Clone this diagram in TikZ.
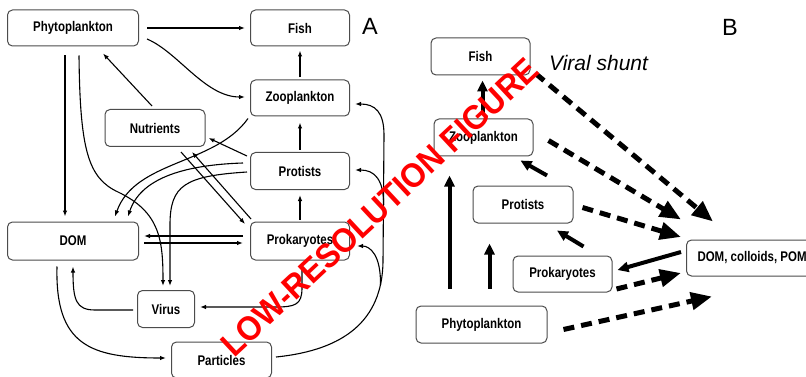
\documentclass[tikz,border=0pt]{standalone}
\usepackage{fontspec}
\setmainfont{Liberation Sans}
\newfontfamily\boxfont[FakeStretch=0.82]{Liberation Sans}
\newfontfamily\wmfont[FakeStretch=0.93]{Liberation Sans}
\usetikzlibrary{arrows.meta,calc}
\begin{document}
\begin{tikzpicture}[x=1pt,y=-1pt,
  boxA/.style={draw=black!70, line width=1pt, rounded corners=5pt, fill=white,
    font=\boxfont\bfseries\fontsize{14}{15}\selectfont, inner sep=0pt},
  ea/.style={-{Latex[length=6pt,width=4.5pt]}, line width=1.1pt},
  solidB/.style={-{Triangle[length=11pt,width=10pt]}, line width=4pt},
  dashB/.style={-{Triangle[length=21pt,width=17pt]}, line width=5pt, dash pattern=on 11pt off 7pt},
  lbl/.style={font=\fontsize{23.5}{24}\selectfont, inner sep=0pt, anchor=base}]
\clip (0,0) rectangle (806,377);
\fill[white] (0,0) rectangle (806,377);
% ---------- Panel A nodes
\node[boxA, minimum width=131pt, minimum height=36pt] (phA) at (73,28) {Phytoplankton};
\node[boxA, minimum width=99pt, minimum height=36pt] (fishA) at (300,28) {Fish};
\node[boxA, minimum width=99pt, minimum height=36pt] (zooA) at (300,98) {Zooplankton};
\node[boxA, minimum width=100pt, minimum height=37pt] (nutA) at (155,128) {Nutrients};
\node[boxA, minimum width=99pt, minimum height=37pt] (proA) at (300,171) {Protists};
\node[boxA, minimum width=131pt, minimum height=38pt] (domA) at (73,241) {DOM};
\node[boxA, minimum width=99pt, minimum height=38pt] (prokA) at (300,241) {Prokaryotes};
\node[boxA, minimum width=57pt, minimum height=37pt] (virA) at (166,309) {Virus};
\node[boxA, minimum width=100pt, minimum height=36pt] (parA) at (221.5,360) {Particles};
\node[lbl] (labA) at (370,35) {A};
% ---------- Panel A connectors
\draw[ea] ($(phA.east)+(8,0)$) -- ($(fishA.west)+(-5,0)$);
\draw[ea] ($(phA.east)+(8,11)$) .. controls (178,52) and (205,97) .. ($(zooA.west)+(-5,-1)$);
\draw[ea] ($(nutA.north)+(-3,-3)$) -- ($(phA.south)+(30,7)$);
\draw[ea] ($(zooA.north)+(0,-2)$) -- ($(fishA.south)+(0,4)$);
\draw[ea] ($(proA.north)+(0,-2)$) -- ($(zooA.south)+(0,6)$);
\draw[ea] ($(prokA.north)+(0,-2)$) -- ($(proA.south)+(0,5)$);
\draw[ea] ($(phA.south)+(-8,9)$) -- ($(domA.north)+(-8,-5)$);
\draw[ea] ($(proA.west)+(-3,-15)$) -- ($(nutA.east)+(3,10)$);
\draw[ea] ($(phA.south)+(6,9)$) .. controls (80,150) and (88,178) .. (118,192)
  .. controls (160,212) and (163,240) .. ($(virA.north)+(-3,-4)$);
\draw[ea] ($(zooA.south west)+(-2,2)$) .. controls (215,165) and (135,160) .. ($(domA.north)+(42,-5)$);
\draw[ea] ($(proA.west)+(-7,-8)$) .. controls (180,165) and (140,180) .. ($(domA.north)+(55,-5)$);
\draw[ea] ($(proA.west)+(-3,1)$) .. controls (185,176) and (170,185) .. (170,225) -- ($(virA.north)+(4,-4)$);
\draw[ea] ($(nutA.south)+(26,5)$) -- ($(prokA.west)+(-5,-17)$);
\draw[ea] ($(prokA.west)+(1,-22)$) -- ($(nutA.south)+(37,5)$);
\draw[ea] ($(prokA.west)+(-7,-5)$) -- ($(domA.east)+(5,-5)$);
\draw[ea] ($(domA.east)+(5,2)$) -- ($(prokA.west)+(-7,2)$);
\draw[ea] ($(prokA.south)+(2,3)$) -- (302,288) .. controls (302,305) and (295,307) .. (275,307) -- ($(virA.east)+(5,-2)$);
\draw[ea] ($(virA.west)+(-4,1)$) -- (95,310) .. controls (76,310) and (73,300) .. ($(domA.south)+(0,6)$);
\draw[ea] ($(domA.south)+(-16,6)$) .. controls (55,345) and (90,358) .. ($(parA.west)+(-5,-2)$);
\draw[ea] ($(parA.east)+(4,-3)$) .. controls (345,350) and (382,320) .. (383,262) -- (384,135)
  .. controls (384,112) and (375,104) .. ($(zooA.east)+(5,6)$);
\draw[ea] (383.7,205) .. controls (383.7,180) and (375,170) .. ($(proA.east)+(5,-1)$);
\draw[ea] (380.5,285) .. controls (381,255) and (370,246) .. ($(prokA.east)+(7,5)$);
% ---------- Panel B nodes
\node[boxA, minimum width=99pt, minimum height=37pt] (fishB) at (480.5,56.5) {Fish};
\node[boxA, minimum width=99pt, minimum height=37pt] (zooB) at (483.5,137.5) {Zooplankton};
\node[boxA, minimum width=100pt, minimum height=37pt] (proB) at (523,204.5) {Protists};
\node[boxA, minimum width=99pt, minimum height=36pt] (prokB) at (562.5,274) {Prokaryotes};
\node[boxA, minimum width=131pt, minimum height=37pt] (phB) at (481.5,324.5) {Phytoplankton};
\node[boxA, minimum height=36pt, inner xsep=11pt, anchor=west] (domB) at (686,258) {DOM, colloids, POM};
\node[lbl] (labB) at (730,36) {B};
\node[font=\itshape\fontsize{21}{22}\selectfont, inner sep=0pt, anchor=base west] (shunt) at (549,71) {Viral shunt};
% ---------- Panel B connectors
\draw[solidB] ($(zooB.north)+(-1,-5)$) -- ($(fishB.south)+(2,5)$);
\draw[solidB] ($(phB.north)+(-32,-17)$) -- ($(zooB.south)+(-34,19)$);
\draw[solidB] ($(phB.north)+(8,-17)$) -- ($(proB.south)+(-33.5,20)$);
\draw[solidB] ($(prokB.north)+(21,-9)$) -- ($(proB.south)+(34,7)$);
\draw[solidB] ($(proB.north)+(24,-10)$) -- ($(zooB.south)+(37,4)$);
\draw[solidB] ($(domB.west)+(-5,-6)$) -- ($(prokB.east)+(5,-4)$);
\draw[dashB] ($(fishB.east)+(5,17)$) -- ($(domB.north west)+(27,-18)$);
\draw[dashB] ($(zooB.east)+(15,3)$) -- ($(domB.north west)+(-5,-20)$);
\draw[dashB] ($(proB.east)+(9,3)$) -- ($(domB.west)+(-5,-21)$);
\draw[dashB] ($(prokB.east)+(4,15)$) -- ($(domB.west)+(-5,15)$);
\draw[dashB] ($(phB.east)+(16,5)$) -- ($(domB.south west)+(26,20)$);
% ---------- watermark
\node[rotate=43, text=red, font=\wmfont\bfseries\fontsize{34}{34}\selectfont, inner sep=0pt] (wm) at (380,207) {LOW-RESOLUTION FIGURE};
\end{tikzpicture}
\end{document}
